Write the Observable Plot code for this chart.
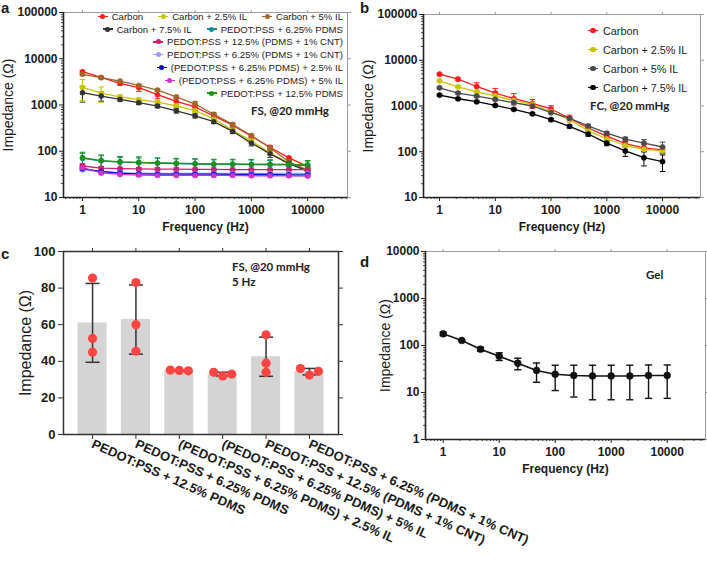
<!DOCTYPE html>
<html>
<head>
<meta charset="utf-8">
<script src="https://cdn.jsdelivr.net/npm/d3@7"></script>
<script src="https://cdn.jsdelivr.net/npm/@observablehq/plot@0.6"></script>
<style>
html,body{margin:0;padding:0;background:#fff;}
#fig{position:relative;width:707px;height:561px;overflow:hidden;background:#fff;font-family:"Liberation Sans",Arial,sans-serif;color:#1a1a1a;}
.panel{position:absolute;}
.panel svg{overflow:visible;}
.letter{position:absolute;font-weight:bold;font-size:15px;line-height:15px;}
.note{position:absolute;font-family:Lato,"Open Sans",sans-serif;font-weight:bold;font-size:11.5px;line-height:14px;white-space:nowrap;color:#222;}
.legend{position:absolute;white-space:nowrap;color:#222;}
.lrow{display:flex;align-items:center;}
.item{display:flex;align-items:center;}
.key{position:relative;display:inline-block;height:1.4px;}
.key i{position:absolute;border-radius:50%;}
</style>
</head>
<body>
<div id="fig"></div>
<script>
// ---------- data ----------
const freqHz = [1, 2.15, 4.64, 10, 21.5, 46.4, 100, 215, 464, 1000, 2150, 4640, 10000];

// panel a (FS, @20 mmHg)
const namesA = ["Carbon", "Carbon + 2.5% IL", "Carbon + 5% IL", "Carbon + 7.5% IL",
  "PEDOT:PSS + 6.25% PDMS", "PEDOT:PSS + 12.5% (PDMS + 1% CNT)", "PEDOT:PSS + 6.25% (PDMS + 1% CNT)",
  "(PEDOT:PSS + 6.25% PDMS) + 2.5% IL", "(PEDOT:PSS + 6.25% PDMS) + 5% IL", "PEDOT:PSS + 12.5% PDMS"];
const colorsA = ["#ff1a1a", "#c9c400", "#a0652a", "#333333", "#1a8a9a", "#cc1f70", "#9c9cf5", "#0a0ad8", "#cc33cc", "#1a941a"];
const fsCarbon     = [5240, 3950, 2930, 2370, 1670, 1200, 906, 583, 368, 212, 122, 72, 47];
const fsCarbon25   = [2400, 1800, 1500, 1300, 1150, 960, 760, 500, 285, 168, 92, 55, 38];
const fsCarbon5    = [4600, 3900, 3300, 2650, 2100, 1500, 1050, 630, 380, 219, 118, 59, 39];
const fsCarbon75   = [1850, 1560, 1320, 1120, 950, 750, 585, 437, 270, 150, 88, 54, 37];
const fsPP625      = [70, 62, 58, 56.5, 55, 54, 53, 52, 52, 51.5, 51, 50.5, 49];
const fsPP125CNT   = [48, 43, 42, 41.5, 41, 41, 40.5, 40.5, 40, 40, 40, 40, 40];
const fsPP625CNT   = [40, 36, 34, 33.5, 33, 33, 33, 33, 33, 33, 33, 33, 33];
const fsPPIL25     = [42, 36.5, 33.6, 32.5, 32, 32, 32, 32, 31.5, 31.5, 31.5, 31, 31];
const fsPPIL5      = [44, 34, 31.5, 30.5, 30, 30, 30, 30, 30, 29.5, 29.5, 29.5, 29];
const fsPP125      = [73, 63, 59, 57.5, 56, 55, 54, 53, 53, 52.5, 52.5, 52, 51];
const fsCarbonSd   = [300, 250, 250, 400, 300, 180, 130, 60, 35, 18, 10, 5, 4];
const fsCarbon25Sd = [1150, 650, 150, 120, 100, 80, 60, 40, 25, 15, 10, 5, 4];
const fsCarbon5Sd  = [250, 200, 150, 150, 100, 80, 150, 60, 30, 15, 10, 5, 4];
const fsCarbon75Sd = [700, 350, 120, 100, 80, 80, 60, 40, 30, 20, 15, 8, 5];
const fsPP625Sd    = [20, 18, 16, 15, 15, 14, 14, 13, 13, 13, 12, 12, 12];
const fsPP125CNTSd = [6, 4, 3, 3, 3, 3, 3, 3, 3, 3, 3, 3, 3];
const fsPP625CNTSd = [4, 3, 2, 2, 2, 2, 2, 2, 2, 2, 2, 2, 2];
const fsPPIL25Sd   = [3, 2, 2, 2, 2, 2, 2, 2, 2, 2, 2, 2, 2];
const fsPPIL5Sd    = [5, 3, 2, 2, 2, 2, 2, 2, 2, 2, 2, 2, 2];
const fsPP125Sd    = [22, 20, 18, 18, 16, 15, 15, 14, 14, 14, 13, 13, 12];

// panel b (FC, @20 mmHg)
const namesB = ["Carbon", "Carbon + 2.5% IL", "Carbon + 5% IL", "Carbon + 7.5% IL"];
const colorsB = ["#ff1a1a", "#c9c400", "#4a4a4a", "#000000"];
const fcCarbon     = [4960, 3860, 2670, 1920, 1460, 1140, 860, 540, 330, 220, 150, 122, 110];
const fcCarbon25   = [3550, 2630, 2040, 1670, 1320, 1080, 750, 500, 290, 190, 137, 113, 105];
const fcCarbon5    = [2500, 1920, 1650, 1390, 1180, 1000, 716, 540, 367, 254, 188, 155, 127];
const fcCarbon75   = [1730, 1440, 1240, 1030, 844, 674, 503, 360, 244, 155, 104, 74, 61];
const fcCarbonSd   = [250, 250, 550, 500, 400, 250, 150, 90, 45, 25, 20, 20, 15];
const fcCarbon25Sd = [150, 120, 100, 80, 60, 50, 40, 30, 20, 15, 10, 10, 10];
const fcCarbon5Sd  = [100, 100, 80, 60, 50, 40, 30, 25, 20, 20, 20, 30, 35];
const fcCarbon75Sd = [80, 80, 60, 50, 40, 35, 30, 30, 25, 20, 25, 25, 24];

// panel c (FS, @20 mmHg, 5 Hz) replicate measurements
const namesC = ["PEDOT:PSS + 12.5% PDMS", "PEDOT:PSS + 6.25% PDMS", "(PEDOT:PSS + 6.25% PDMS) + 2.5% IL",
  "(PEDOT:PSS + 6.25% PDMS) + 5% IL", "PEDOT:PSS + 12.5% (PDMS + 1% CNT)", "PEDOT:PSS + 6.25% (PDMS + 1% CNT)"];
const repC = [[85.5, 52.5, 45], [83, 60, 45.5], [35, 35.2, 34.8], [32, 34, 33], [54.5, 34, 39], [32.5, 36, 34.5]];

// panel d (Gel)
const gelMean = [177, 128, 83.5, 59, 42, 29.5, 24.5, 23, 22.5, 22.5, 22.5, 23, 23];
const gelSd   = [15, 5, 8, 11, 11.5, 13, 13.5, 15, 15.5, 15.5, 15.5, 15.5, 15.5];

// ---------- helpers ----------
const fig = document.getElementById("fig");
const FONT = "'Liberation Sans', Arial, sans-serif";
const capSymbol = {draw(ctx, size) { const w = Math.sqrt(size / Math.PI); ctx.moveTo(-w, 0); ctx.lineTo(w, 0); }};

function minorTicks([lo, hi]) {
  const out = [];
  for (let e = Math.floor(Math.log10(lo)); e < Math.ceil(Math.log10(hi)); e++)
    for (let m = 2; m <= 9; m++) { const t = m * Math.pow(10, e); if (t >= lo && t <= hi) out.push(t); }
  return out;
}
function decades([lo, hi]) {
  const out = [];
  for (let e = Math.ceil(Math.log10(lo) - 1e-9); Math.pow(10, e) <= hi * 1.0001; e++) out.push(Math.pow(10, e));
  return out;
}
function place(node, left, top) {
  const d = document.createElement("div");
  d.className = "panel"; d.style.left = left + "px"; d.style.top = top + "px";
  d.appendChild(node); fig.appendChild(d);
}
function addText(cls, txt, left, top, extra) {
  const d = document.createElement("div");
  d.className = cls; d.textContent = txt; d.style.left = left + "px"; d.style.top = top + "px";
  if (extra) Object.assign(d.style, extra);
  fig.appendChild(d);
}
function addLegend(names, colors, rowSizes, css, opt) {
  const box = document.createElement("div");
  box.className = "legend"; Object.assign(box.style, css);
  let k = 0;
  for (const n of rowSizes) {
    const row = document.createElement("div");
    row.className = "lrow"; row.style.height = opt.rowH + "px"; row.style.justifyContent = opt.justify;
    for (let j = 0; j < n; j++, k++) {
      const it = document.createElement("span"); it.className = "item";
      if (j > 0) it.style.marginLeft = opt.gap + "px";
      const key = document.createElement("span"); key.className = "key";
      key.style.width = opt.keyW + "px"; key.style.background = colors[k]; key.style.marginRight = opt.keyGap + "px";
      const dot = document.createElement("i");
      Object.assign(dot.style, {width: opt.dot + "px", height: opt.dot + "px", background: colors[k],
        left: (opt.keyW - opt.dot) / 2 + "px", top: (1.4 - opt.dot) / 2 + "px"});
      key.appendChild(dot);
      const t = document.createElement("span"); t.textContent = names[k];
      it.appendChild(key); it.appendChild(t); row.appendChild(it);
    }
    box.appendChild(row);
  }
  fig.appendChild(box);
}

function logPanel(o) {
  const rows = o.names.flatMap((name, s) => freqHz.map((f, i) => ({
    series: name, f, v: o.values[s][i], lo: o.values[s][i] - o.sds[s][i], hi: o.values[s][i] + o.sds[s][i]
  })));
  const xMaj = [1, 10, 100, 1000, 10000];
  const yMaj = decades(o.yDomain);
  return Plot.plot({
    width: o.width, height: o.height,
    marginLeft: o.ml, marginRight: o.mr, marginTop: o.mt, marginBottom: o.mb,
    x: {type: "log", domain: o.xDomain},
    y: {type: "log", domain: o.yDomain},
    color: {domain: o.names, range: o.colors},
    style: {background: "transparent", overflow: "visible", fontFamily: FONT, color: "#1a1a1a"},
    marks: [
      Plot.frame({stroke: "#9a9a9a", strokeWidth: 1}),
      Plot.axisX({anchor: "top", ticks: xMaj, tickSize: 3, tickFormat: () => "", label: null, stroke: "#999"}),
      Plot.axisY({anchor: "right", ticks: yMaj, tickSize: 3, tickFormat: () => "", label: null, stroke: "#999"}),
      Plot.axisX({ticks: minorTicks(o.xDomain), tickSize: 2, tickFormat: () => "", label: null, stroke: "#444"}),
      Plot.axisY({ticks: minorTicks(o.yDomain), tickSize: 2, tickFormat: () => "", label: null, stroke: "#444"}),
      Plot.axisX({ticks: xMaj, tickSize: 4, tickPadding: 4, tickFormat: d3.format("d"), fontSize: 12, fontWeight: "bold",
        label: "Frequency (Hz)", labelAnchor: "center", labelOffset: o.xLabelOffset, labelArrow: "none", stroke: "#222"}),
      Plot.axisY({ticks: yMaj, tickSize: 4, tickPadding: 2, tickFormat: d3.format("d"), fontSize: 12, fontWeight: "bold",
        label: null, stroke: "#222"}),
      Plot.axisY({ticks: [], tickSize: 0, tickFormat: () => "", fontSize: 14, label: "Impedance (Ω)",
        labelAnchor: "center", labelOffset: o.yLabelOffset, labelArrow: "none"}),
      Plot.ruleX([o.xDomain[0]], {stroke: "#222", strokeWidth: 1.6}),
      Plot.ruleY([o.yDomain[0]], {stroke: "#222", strokeWidth: 1.6}),
      Plot.ruleX(rows, {x: "f", y1: "lo", y2: "hi", stroke: o.single || "series", strokeWidth: o.errW}),
      Plot.dot(rows, {x: "f", y: "lo", symbol: capSymbol, r: o.capR, fill: "none", stroke: o.single || "series", strokeWidth: o.errW}),
      Plot.dot(rows, {x: "f", y: "hi", symbol: capSymbol, r: o.capR, fill: "none", stroke: o.single || "series", strokeWidth: o.errW}),
      Plot.line(rows, {x: "f", y: "v", z: "series", stroke: o.single || "series", strokeWidth: o.lineW}),
      Plot.dot(rows, {x: "f", y: "v", r: o.dotR, fill: o.single || "series", stroke: o.single || "series", strokeWidth: 0.6})
    ]
  });
}

// ---------- panel a ----------
place(logPanel({
  width: 355, height: 235, ml: 63, mr: 8, mt: 12, mb: 38,
  xDomain: [0.46, 51000], yDomain: [10, 100000],
  names: namesA, colors: colorsA,
  values: [fsCarbon, fsCarbon25, fsCarbon5, fsCarbon75, fsPP625, fsPP125CNT, fsPP625CNT, fsPPIL25, fsPPIL5, fsPP125],
  sds: [fsCarbonSd, fsCarbon25Sd, fsCarbon5Sd, fsCarbon75Sd, fsPP625Sd, fsPP125CNTSd, fsPP625CNTSd, fsPPIL25Sd, fsPPIL5Sd, fsPP125Sd],
  dotR: 2.5, capR: 2.8, errW: 1, lineW: 1.3, xLabelOffset: 33, yLabelOffset: 60
}), 0, 0);

// ---------- panel b ----------
place(logPanel({
  width: 347, height: 235, ml: 63, mr: 7, mt: 14, mb: 38,
  xDomain: [0.516, 48000], yDomain: [10, 100000],
  names: namesB, colors: colorsB,
  values: [fcCarbon, fcCarbon25, fcCarbon5, fcCarbon75],
  sds: [fcCarbonSd, fcCarbon25Sd, fcCarbon5Sd, fcCarbon75Sd],
  dotR: 2.6, capR: 2.8, errW: 1, lineW: 1.3, xLabelOffset: 33, yLabelOffset: 60
}), 360, 0);

// ---------- panel d ----------
place(logPanel({
  width: 347, height: 239, ml: 65, mr: 2, mt: 11, mb: 40,
  xDomain: [0.483, 48300], yDomain: [1, 10000],
  names: ["Gel"], colors: ["#000"], single: "#111",
  values: [gelMean], sds: [gelSd],
  dotR: 3.4, capR: 3.6, errW: 1.4, lineW: 1.6, xLabelOffset: 33, yLabelOffset: 45
}), 360, 240);

// ---------- panel c ----------
(function () {
  const W = 360, H = 316, ml = 63, mr = 22, mt = 6, mb = 127;
  const xDom = [-0.67, 5.67], yDom = [0, 100];
  const pxX = (W - ml - mr) / (xDom[1] - xDom[0]);
  const pxY = (H - mt - mb) / (yDom[1] - yDom[0]);
  const r = 4.6, step = 9;
  const bars = namesC.map((name, i) => {
    const m = d3.mean(repC[i]), s = d3.deviation(repC[i]) || 0;
    return {i, name, mean: m, lo: m - s, hi: m + s};
  });
  // simple beeswarm so replicate points do not overlap
  const pts = [];
  repC.forEach((vals, i) => {
    const placed = [];
    for (const v of vals) {
      let off = 0;
      for (const c of [0, -1, 1, -2, 2]) {
        const ok = placed.every(p => Math.hypot((p.c - c) * step, (p.v - v) * pxY) >= 2 * r - 1);
        if (ok) { off = c; break; }
      }
      placed.push({c: off, v});
      pts.push({i, v, x: i + off * step / pxX});
    }
  });
  const plot = Plot.plot({
    width: W, height: H, marginLeft: ml, marginRight: mr, marginTop: mt, marginBottom: mb,
    x: {type: "linear", domain: xDom},
    y: {type: "linear", domain: yDom},
    style: {background: "transparent", overflow: "visible", fontFamily: FONT, color: "#1a1a1a"},
    marks: [
      Plot.rect(bars, {x1: d => d.i - 0.335, x2: d => d.i + 0.335, y1: d => 0, y2: "mean", fill: "#d4d4d4"}),
      Plot.ruleX(bars, {x: "i", y1: "lo", y2: "hi", stroke: "#333", strokeWidth: 1.5}),
      Plot.dot(bars, {x: "i", y: "lo", symbol: capSymbol, r: 7, fill: "none", stroke: "#333", strokeWidth: 1.5}),
      Plot.dot(bars, {x: "i", y: "hi", symbol: capSymbol, r: 7, fill: "none", stroke: "#333", strokeWidth: 1.5}),
      Plot.dot(pts, {x: "x", y: "v", r: r, fill: "#ff4444"}),
      Plot.frame({stroke: "#333", strokeWidth: 1.5}),
      Plot.axisX({anchor: "top", ticks: d3.range(namesC.length), tickSize: 4, tickFormat: () => "", label: null, stroke: "#333"}),
      Plot.axisY({anchor: "right", ticks: d3.range(0, 101, 20), tickSize: 4, tickFormat: () => "", label: null, stroke: "#333"}),
      Plot.axisX({ticks: d3.range(namesC.length), tickFormat: i => namesC[i], tickRotate: 24, tickSize: 5, tickPadding: 4,
        fontSize: 13, fontWeight: "bold", label: null, stroke: "#333"}),
      Plot.axisY({ticks: d3.range(0, 101, 20), tickSize: 5, tickPadding: 3, fontSize: 13, fontWeight: "bold", label: null, stroke: "#333"}),
      Plot.axisY({ticks: [], tickSize: 0, tickFormat: () => "", fontSize: 16, label: "Impedance (Ω)",
        labelAnchor: "center", labelOffset: 44, labelArrow: "none"})
    ]
  });
  place(plot, 0, 245);
})();

// ---------- legends, notes, letters ----------
addLegend(namesA, colorsA, [3, 2, 1, 1, 1, 1, 1],
  {right: "364px", top: "10px", fontSize: "9.6px"},
  {rowH: 12.8, justify: "flex-end", gap: 15, keyW: 10, keyGap: 4, dot: 5});
addLegend(namesB, colorsB, [1, 1, 1, 1],
  {left: "588px", top: "21px", fontSize: "10.8px"},
  {rowH: 19, justify: "flex-start", gap: 0, keyW: 10, keyGap: 5, dot: 5.5});

addText("note", "FS, @20 mmHg", 251, 104);
addText("note", "FC, @20 mmHg", 590, 99);
addText("note", "FS, @20 mmHg", 232, 260);
addText("note", "5 Hz", 232, 275);
addText("note", "Gel", 646, 268);

addText("letter", "a", 1, 0);
addText("letter", "b", 360, 0);
addText("letter", "c", 1, 246);
addText("letter", "d", 360, 254);
</script>
</body>
</html>
